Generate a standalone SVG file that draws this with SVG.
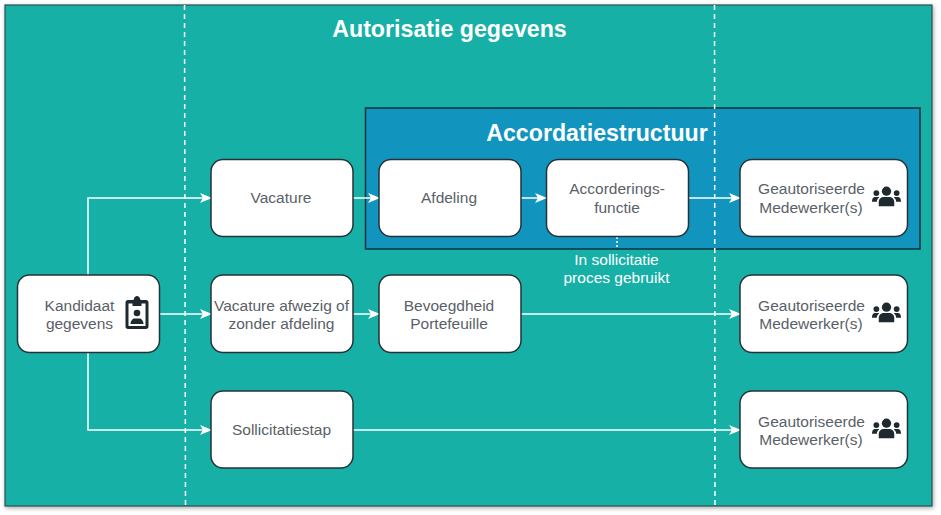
<svg xmlns="http://www.w3.org/2000/svg" width="941" height="515" viewBox="0 0 941 515">
<defs>
<filter id="sh" x="-2%" y="-2%" width="104%" height="104%"><feDropShadow dx="1" dy="1.5" stdDeviation="2" flood-color="#000" flood-opacity="0.35"/></filter>
<marker id="arr" viewBox="0 0 12 10" refX="11" refY="5" markerWidth="12" markerHeight="10" markerUnits="userSpaceOnUse" orient="auto"><path d="M0 0L12 5L0 10L3 5Z" fill="#fff"/></marker>
<symbol id="users" viewBox="0 0 30 21"><g fill="#1f2a30"><circle cx="15" cy="5" r="4.8"/><circle cx="4.5" cy="7" r="3"/><circle cx="25.5" cy="7" r="3"/><path d="M7 20.5v-4.5c0-3.5 3-5 5-5h6c2 0 5 1.500 5 5v4.500z"/><path d="M0 15.500c0-3 1.500-4.500 3-4.500h3.500c.5 0 .8.200 1 .5C6 12.500 5 14 5 16H0z"/><path d="M30 15.500c0-3-1.500-4.500-3-4.500h-3.500c-.5 0-.8.200-1 .5 1.500 1 2.500 2.500 2.500 4.500h5z"/></g></symbol>
</defs>
<style>
.n{fill:#fff;stroke:#263238;stroke-width:1.500}
.t{font-family:"Liberation Sans",Arial,sans-serif;font-size:15.500px;fill:#5a5f68;text-anchor:middle}
.w{font-family:"Liberation Sans",Arial,sans-serif;font-weight:bold;fill:#fff;text-anchor:middle}
.c{fill:none;stroke:#fff;stroke-width:1.500}
.a{marker-end:url(#arr)}
.d{fill:none;stroke:#fff;stroke-width:1.500;stroke-dasharray:5 4}
</style>
<rect width="941" height="515" fill="#fff"/>
<rect id="background" x="5" y="5" width="927" height="501" fill="#15b0a7" stroke="#2f4f50" stroke-width="1.200" filter="url(#sh)"/>
<text id="title" class="w" x="449.500" y="37" font-size="23.200">Autorisatie gegevens</text>
<g id="accordatiestructuur">
<rect x="365.500" y="108" width="554.500" height="141" fill="#1195bf" stroke="#12303c" stroke-width="1.500"/>
<text class="w" x="597" y="141" font-size="23.200">Accordatiestructuur</text>
</g>
<g id="separators">
<path class="d" d="M184.500 5L185.500 506"/>
<path class="d" d="M714.500 5L715 506"/>
</g>
<g id="connectors">
<path class="c a" d="M88 275V198H211"/>
<path class="c a" d="M159.500 314H211"/>
<path class="c a" d="M88 352.500V430H211"/>
<path class="c a" d="M353 198H379"/>
<path class="c a" d="M353 314H379"/>
<path class="c a" d="M521 198H546"/>
<path class="c a" d="M688.500 198H740"/>
<path class="c a" d="M521 314H740"/>
<path class="c a" d="M353 430H740"/>
<path d="M617 237V249" fill="none" stroke="#fff" stroke-width="1.500" stroke-dasharray="2 2"/>
</g>
<g id="kandidaat">
<rect class="n" x="17.500" y="275" width="142" height="77.500" rx="12"/>
<text class="t" x="79.500" y="311">Kandidaat</text><text class="t" x="79.500" y="329">gegevens</text>
<path fill="#1f2a30" fill-rule="evenodd" d="M128 300h5.500c.5-2.500 2-4 3.500-4s3 1.500 3.500 4h5.500c1.500 0 2.500 1 2.500 2.500v24c0 1.500-1 2.500-2.500 2.500h-18c-1.500 0-2.500-1-2.500-2.500v-24c0-1.500 1-2.500 2.500-2.500zm.5 3.500v22.500h17v-22.500h-4v2.500h-9v-2.500z"/>
<circle cx="137" cy="313" r="3.300" fill="#1f2a30"/>
<path fill="#1f2a30" d="M130.500 324c0-3.500 2.500-5.500 4-5.500h5c1.500 0 4 2 4 5.500z"/>
</g>
<g id="vacature"><rect class="n" x="211" y="159.500" width="142" height="77" rx="12"/><text class="t" x="281" y="203">Vacature</text></g>
<g id="vacature-afwezig"><rect class="n" x="211" y="275" width="142" height="77.500" rx="12"/><text class="t" x="281.500" y="311">Vacature afwezig of</text><text class="t" x="281.500" y="329">zonder afdeling</text></g>
<g id="sollicitatiestap"><rect class="n" x="211" y="391" width="142" height="77" rx="12"/><text class="t" x="281.500" y="435">Sollicitatiestap</text></g>
<g id="afdeling"><rect class="n" x="379" y="159.500" width="142" height="77" rx="12"/><text class="t" x="449" y="203">Afdeling</text></g>
<g id="bevoegdheid"><rect class="n" x="379" y="275" width="142" height="77.500" rx="12"/><text class="t" x="449" y="311">Bevoegdheid</text><text class="t" x="449" y="329">Portefeuille</text></g>
<g id="accorderingsfunctie"><rect class="n" x="546.500" y="159.500" width="142" height="77" rx="12"/><text class="t" x="617" y="194">Accorderings-</text><text class="t" x="617" y="213">functie</text></g>
<text id="proces-label" class="t" style="fill:#fff" x="616.500" y="265">In sollicitatie</text>
<text class="t" style="fill:#fff" x="616.500" y="283">proces gebruikt</text>
<g id="medewerker-1"><rect class="n" x="740" y="159.500" width="167.500" height="77" rx="12"/><text class="t" x="811.500" y="194">Geautoriseerde</text><text class="t" x="811" y="213">Medewerker(s)</text><use href="#users" x="872" y="186" width="29" height="21"/></g>
<g id="medewerker-2"><rect class="n" x="740" y="275" width="167.500" height="77.500" rx="12"/><text class="t" x="811.500" y="311">Geautoriseerde</text><text class="t" x="811" y="329">Medewerker(s)</text><use href="#users" x="872" y="302" width="29" height="21"/></g>
<g id="medewerker-3"><rect class="n" x="740" y="391" width="167.500" height="77" rx="12"/><text class="t" x="811.500" y="427">Geautoriseerde</text><text class="t" x="811" y="445">Medewerker(s)</text><use href="#users" x="872" y="418" width="29" height="21"/></g>
</svg>
